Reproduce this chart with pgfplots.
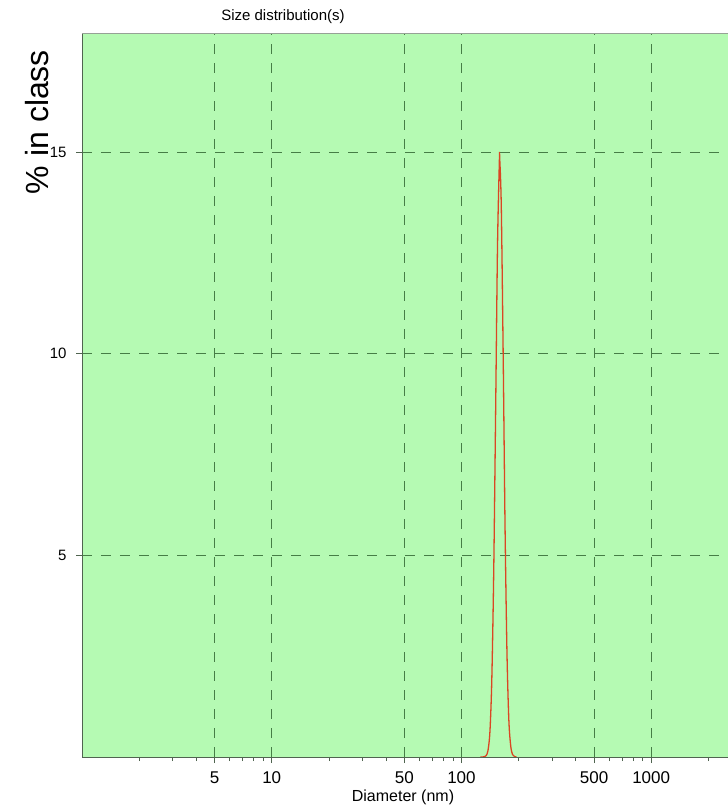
\documentclass[border=0pt]{standalone}
\usepackage{pgfplots}
\pgfplotsset{compat=1.18}
\usepackage{fontspec}
\setmainfont{Liberation Sans}
\definecolor{bgg}{RGB}{181,250,179}
\definecolor{gridg}{RGB}{70,125,70}
\definecolor{curve}{RGB}{218,70,35}
\definecolor{frame}{RGB}{80,100,80}
\begin{document}
\begin{tikzpicture}
\begin{axis}[
  scale only axis,
  width=646pt, height=724pt,
  xmode=log, log basis x=10,
  xmin=1, xmax=2541, ymin=0, ymax=17.95,
  axis background/.style={fill=bgg},
  axis line style={draw=none},
  xtick={5,10,50,100,500,1000},
  xticklabels={5,10,50,100,500,1000},
  minor xtick={2,3,4,6,7,8,9,20,30,40,60,70,80,90,200,300,400,600,700,800,900,2000},
  ytick={5,10,15},
  yticklabels={5,10,15},
  xtick pos=bottom, ytick pos=left,
  tick align=outside,
  major tick length=6pt, minor tick length=4pt,
  tick style={color=frame, line width=0.5pt},
  xmajorgrids, ymajorgrids,
  major grid style={color=gridg, dash pattern=on 10pt off 9pt, line width=0.8pt},
  xticklabel style={font=\fontsize{17}{19}\selectfont, yshift=-5pt},
  yticklabel style={font=\fontsize{15}{17}\selectfont, xshift=-6pt},
  /pgf/number format/assume math mode=true,
]
\addplot[color=curve, line width=1.3pt, smooth] coordinates {
(125.9,0) (128.5,0) (131.8,0.005) (134.9,0.033) (138.0,0.16) (141.3,0.63)
(144.5,1.89) (147.9,4.53) (151.4,8.52) (154.9,12.65) (158.5,14.80) (159.1,14.85)
(162.2,13.65) (166.0,9.93) (169.8,5.69) (173.8,2.57) (177.8,0.91) (182.0,0.26)
(186.2,0.057) (190.5,0.01) (195.0,0)
};
\end{axis}
\draw[frame, line width=0.9pt] (646pt,0) -- (0,0) -- (0,724pt);
\draw[frame!60, line width=0.6pt] (0,724pt) -- (646pt,724pt);
\node[font=\fontsize{15}{17}\selectfont] at (201pt,740pt) {Size distribution(s)};
\node[font=\fontsize{16}{18}\selectfont] at (321pt,-40pt) {Diameter (nm)};
\node[font=\fontsize{32}{36}\selectfont, rotate=90] at (-45pt,635pt) {\% in class};
\pgfresetboundingbox
\path (-82pt,-54pt) rectangle (646pt,757pt);
\end{tikzpicture}
\end{document}
